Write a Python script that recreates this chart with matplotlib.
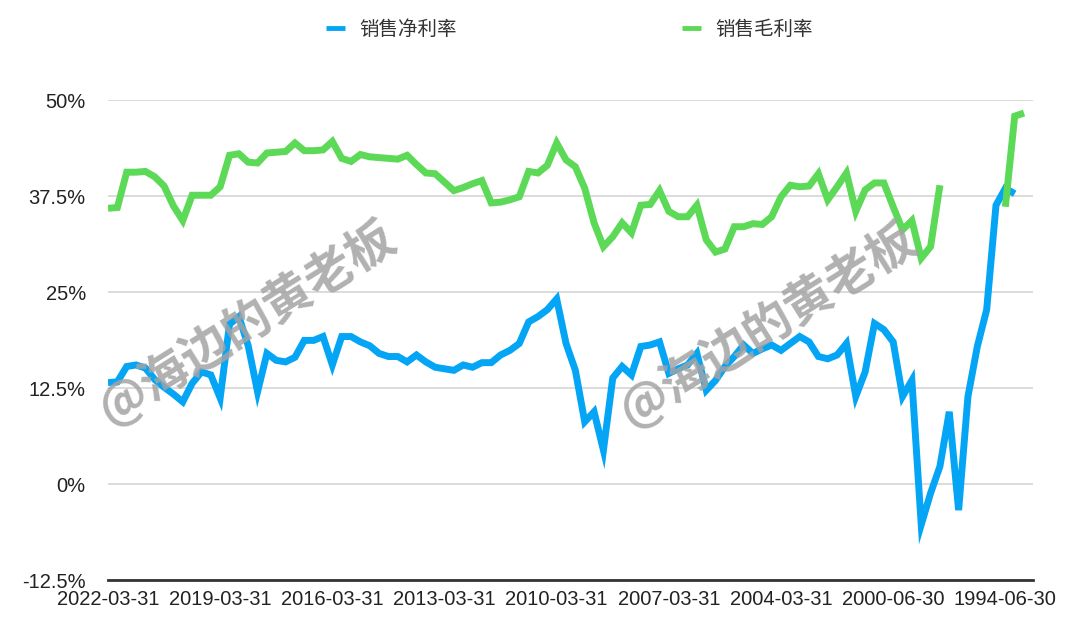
import numpy as np
import matplotlib
matplotlib.use("Agg")
import matplotlib.pyplot as plt
from matplotlib.lines import Line2D

plt.rcParams["font.family"] = ["Liberation Sans", "Noto Sans CJK SC"]

nan = np.nan

# quarterly points, newest first (index 0 = 2022-03-31)
net_margin = [
    13.2, 13.3, 15.3, 15.5, 15.1, 13.6, 12.6, 11.7, 10.7, 13.1,
    14.6, 14.2, 11.2, 20.8, 21.8, 18.0, 12.0, 17.0, 16.1, 15.9,
    16.5, 18.7, 18.7, 19.2, 15.5, 19.2, 19.2, 18.5, 18.0, 17.0,
    16.6, 16.6, 15.9, 16.8, 15.9, 15.2, 15.0, 14.8, 15.5, 15.2,
    15.8, 15.8, 16.8, 17.4, 18.3, 21.1, 21.8, 22.7, 24.1, 18.3,
    14.8, 8.1, 9.4, 4.4, 13.8, 15.3, 14.2, 17.9, 18.1, 18.5,
    14.4, 15.0, 15.5, 17.0, 12.2, 13.5, 15.3, 16.6, 18.1, 17.0,
    17.6, 18.1, 17.4, 18.3, 19.2, 18.5, 16.6, 16.3, 16.8, 18.3,
    11.4, 14.6, 20.9, 20.1, 18.5, 11.4, 13.5, -5.3, -1.2, 2.3,
    9.4, -3.4, 11.4, 17.9, 22.7, 36.3, 38.5, 37.8, nan, nan,
]

gross_margin = [
    35.9, 36.0, 40.6, 40.6, 40.7, 40.0, 38.8, 36.2, 34.3, 37.6,
    37.6, 37.6, 38.7, 42.8, 43.0, 41.9, 41.8, 43.1, 43.2, 43.3,
    44.4, 43.4, 43.4, 43.5, 44.6, 42.4, 42.0, 42.9, 42.6, 42.5,
    42.4, 42.3, 42.8, 41.6, 40.5, 40.4, 39.3, 38.2, 38.6, 39.1,
    39.5, 36.6, 36.7, 37.0, 37.4, 40.7, 40.5, 41.5, 44.4, 42.2,
    41.3, 38.5, 34.0, 30.9, 32.2, 34.0, 32.7, 36.3, 36.4, 38.2,
    35.5, 34.8, 34.8, 36.3, 31.8, 30.2, 30.6, 33.5, 33.5, 33.9,
    33.8, 34.8, 37.4, 38.9, 38.7, 38.8, 40.4, 37.0, 38.7, 40.5,
    35.5, 38.3, 39.2, 39.2, 36.1, 33.1, 34.3, 29.4, 30.9, 38.9,
    nan, nan, nan, nan, nan, nan, 36.1, 47.9, 48.3, nan,
]

tick_labels = ["2022-03-31", "2019-03-31", "2016-03-31", "2013-03-31", "2010-03-31",
               "2007-03-31", "2004-03-31", "2000-06-30", "1994-06-30"]
tick_pos = [0, 12, 24, 36, 48, 60, 72, 84, 96]

y_ticks = [-12.5, 0, 12.5, 25, 37.5, 50]
y_labels = ["-12.5%", "0%", "12.5%", "25%", "37.5%", "50%"]

series_names = ["销售净利率", "销售毛利率"]
colors = ["#05a5f5", "#5dd958"]

fig = plt.figure(figsize=(10.8, 6.37), dpi=100)
ax = fig.add_axes([108 / 1080, 1 - 580 / 637, (1033.4 - 108) / 1080, 480 / 637])

x = np.arange(len(net_margin))
ax.plot(x, net_margin, color=colors[0], lw=5, solid_joinstyle="miter", solid_capstyle="butt", zorder=3)
ax.plot(x, gross_margin, color=colors[1], lw=5, solid_joinstyle="miter", solid_capstyle="butt", zorder=3)

ax.set_xlim(0, len(net_margin) - 1)
ax.set_ylim(-12.5, 50)
ax.set_yticks(y_ticks)
ax.set_yticklabels(y_labels)
ax.set_xticks(tick_pos)
ax.set_xticklabels(tick_labels)
ax.tick_params(axis="y", length=0, pad=16, labelsize=14.5, labelcolor="#222222")
ax.tick_params(axis="x", length=0, pad=7, labelsize=14.5, labelcolor="#222222")

ax.yaxis.grid(True, color="#d9d9d9", lw=1.3)
ax.set_axisbelow(True)
for side in ["top", "right", "left"]:
    ax.spines[side].set_visible(False)
ax.spines["bottom"].set_color("#333333")
ax.spines["bottom"].set_linewidth(2)
ax.spines["bottom"].set_zorder(4)

handles = [Line2D([], [], color=c, lw=3.5, solid_capstyle="butt") for c in colors]
fig.legend(handles, series_names, loc="center", bbox_to_anchor=(0.527, 0.953), ncol=2,
           frameon=False, fontsize=14, handlelength=1.0, handletextpad=0.7,
           columnspacing=11.6, labelcolor="#333333")

# watermark
for cx, cy in [(0.229, 0.493), (0.711, 0.490)]:
    fig.text(cx, cy, "@海边的黄老板", rotation=32, ha="center", va="center",
             fontsize=35, fontweight="bold", color="#a3a3a3", alpha=0.85, zorder=10,
             family=["Noto Sans CJK SC", "DejaVu Sans"])

fig.savefig("out.png", dpi=100)
